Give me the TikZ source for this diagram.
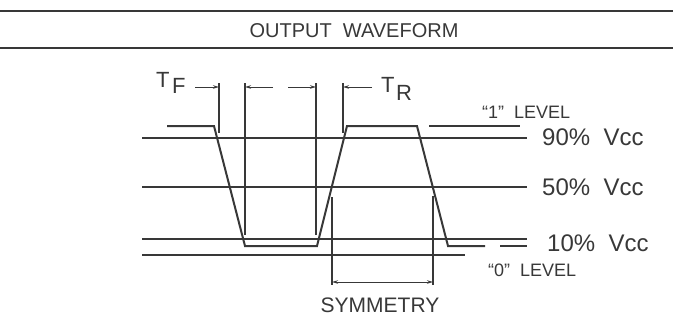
\documentclass[tikz,border=0pt]{standalone}
\usepackage{fontspec}
\setmainfont{Liberation Sans}
\usetikzlibrary{arrows.meta}
\definecolor{ink}{HTML}{383838}

\begin{document}
\begin{tikzpicture}[x=1pt,y=-1pt,ink,
    rule/.style={line width=2.4pt},
    wave/.style={line width=2pt, line join=miter},
    lvl/.style={line width=1.8pt},
    ext/.style={line width=1.6pt},
    dim/.style={line width=1pt, -{Stealth[length=6pt,width=3.5pt]}},
    lbl/.style={anchor=base west, inner sep=0pt, font=\fontsize{24}{24}\selectfont},
    small/.style={anchor=base west, inner sep=0pt, font=\fontsize{18}{18}\selectfont}]
    \useasboundingbox (0,0) rectangle (673,335);

    % Title bar
    \draw[rule] (0,11) -- (673,11);
    \draw[rule] (0,48) -- (673,48);
    \node[anchor=base, inner sep=0pt, font=\fontsize{20}{20}\selectfont] (title) at (354,37) {OUTPUT\ \ WAVEFORM};

    % Threshold levels
    \foreach \y in {138,187,239} {
        \draw[lvl] (142,\y) -- (527,\y);
    }
    \draw[lvl] (142,255) -- (465,255);
    \node[lbl] (ninety) at (542,145) {90\%\ \ Vcc};
    \node[lbl] (fifty) at (542,195) {50\%\ \ Vcc};
    \node[lbl] (ten) at (547,251) {10\%\ \ Vcc};

    % Logic levels
    \draw[lvl] (429,126) -- (520,126);
    \draw[lvl] (500,246) -- (527,246);
    \node[small] (one) at (482,118) {\textquotedblleft1\textquotedblright\ \ LEVEL};
    \node[small] (zero) at (488,276) {\textquotedblleft0\textquotedblright\ \ LEVEL};

    % Output waveform
    \draw[wave]
        (167,126) -- (214,126)
        -- (245,246)
        -- (317,246)
        -- (347,126)
        -- (417,126)
        -- (448,246)
        -- (485,246);

    % Extension lines
    \coordinate (f1) at (219,87);
    \coordinate (w1) at (245,87);
    \coordinate (w2) at (316,87);
    \coordinate (r1) at (343,87);
    \coordinate (s1) at (332,282);
    \coordinate (s2) at (433,282);
    \draw[ext] (219,83) -- (219,133);
    \draw[ext] (245,83) -- (245,235);
    \draw[ext] (316,83) -- (316,235);
    \draw[ext] (343,83) -- (343,133);
    \draw[ext] (332,197) -- (332,285);
    \draw[ext] (433,196) -- (433,285);

    % Timing arrows
    \coordinate (fa) at (195,87);
    \coordinate (wa) at (273,87);
    \coordinate (wb) at (288,87);
    \coordinate (ra) at (372,87);
    \draw[dim] (fa) -- (f1);
    \draw[dim] (wa) -- (w1);
    \draw[dim] (wb) -- (w2);
    \draw[dim] (ra) -- (r1);
    \draw[dim, {Stealth[length=6pt,width=3.5pt]}-{Stealth[length=6pt,width=3.5pt]}] (s1) -- (s2);

    % Labels
    \node[lbl, font=\fontsize{22}{22}\selectfont] (tf) at (156,87) {T};
    \node[lbl, font=\fontsize{22}{22}\selectfont] (tfs) at (172,93) {F};
    \node[lbl, font=\fontsize{22}{22}\selectfont] (tr) at (381,92) {T};
    \node[lbl, font=\fontsize{22}{22}\selectfont] (trs) at (396,100) {R};
    \node[anchor=base, inner sep=0pt, font=\fontsize{21}{21}\selectfont] (sym) at (380,312) {SYMMETRY};
\end{tikzpicture}
\end{document}
